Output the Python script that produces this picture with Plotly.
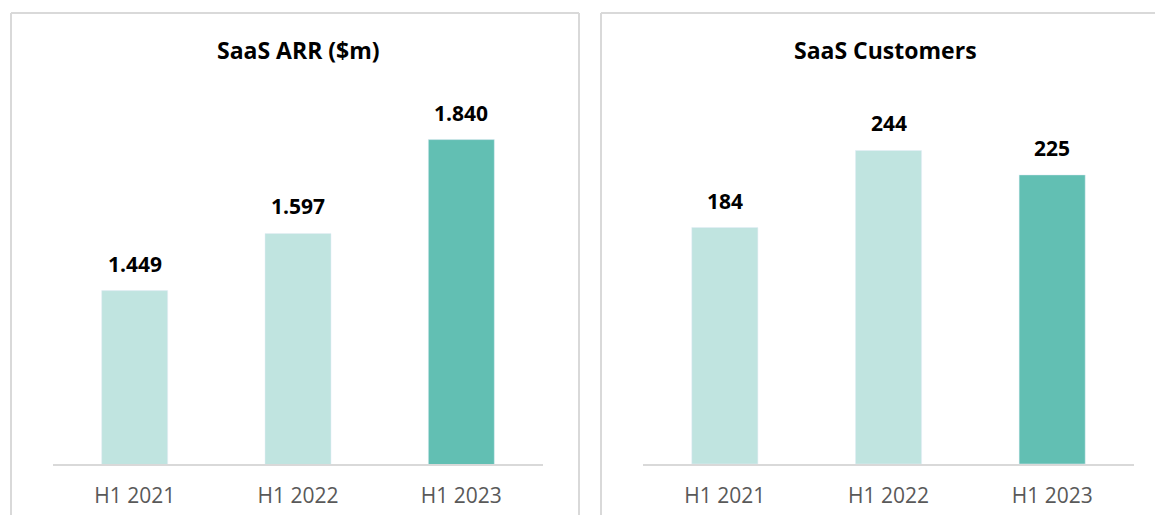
import plotly.graph_objects as go

categories = ["H1 2021", "H1 2022", "H1 2023"]
arr_values = [1.449, 1.597, 1.840]
customer_values = [184, 244, 225]
arr_labels = ["1.449", "1.597", "1.840"]
customer_labels = ["184", "244", "225"]
titles = ["SaaS ARR ($m)", "SaaS Customers"]

LIGHT = "#c0e4e0"
DARK = "#62bfb3"
colors = [LIGHT, LIGHT, DARK]
W, H = 1155, 515
FONT = "Open Sans"

def px(x):
    return x / W

def py(y):
    return (H - y) / H

fig = go.Figure()
fig.add_trace(go.Bar(x=categories, y=arr_values, marker_color=colors, xaxis="x", yaxis="y",
                     hoverinfo="skip", showlegend=False))
fig.add_trace(go.Bar(x=categories, y=customer_values, marker_color=colors, xaxis="x2", yaxis="y2",
                     hoverinfo="skip", showlegend=False))

lab_font = dict(family=FONT, size=21, color="#000000")
title_font = dict(family=FONT, size=23, color="#000000")
annotations = []
for c, v, t in zip(categories, arr_values, arr_labels):
    annotations.append(dict(x=c, y=v, xref="x", yref="y", text="<b>%s</b>" % t, showarrow=False,
                            yanchor="bottom", yshift=11, font=lab_font))
for c, v, t in zip(categories, customer_values, customer_labels):
    annotations.append(dict(x=c, y=v, xref="x2", yref="y2", text="<b>%s</b>" % t, showarrow=False,
                            yanchor="bottom", yshift=11, font=lab_font))
annotations.append(dict(x=px(298), y=py(50), xref="paper", yref="paper", text="<b>%s</b>" % titles[0],
                        showarrow=False, xanchor="center", yanchor="middle", font=title_font))
annotations.append(dict(x=px(885), y=py(50), xref="paper", yref="paper", text="<b>%s</b>" % titles[1],
                        showarrow=False, xanchor="center", yanchor="middle", font=title_font))

border = dict(color="#d9d9d9", width=2)
shapes = [
    dict(type="line", xref="paper", yref="paper", x0=px(11), x1=px(11), y0=py(13), y1=py(520), line=border),
    dict(type="line", xref="paper", yref="paper", x0=px(11), x1=px(579), y0=py(13), y1=py(13), line=border),
    dict(type="line", xref="paper", yref="paper", x0=px(579), x1=px(579), y0=py(13), y1=py(520), line=border),
    dict(type="line", xref="paper", yref="paper", x0=px(601), x1=px(601), y0=py(13), y1=py(520), line=border),
    dict(type="line", xref="paper", yref="paper", x0=px(601), x1=px(1160), y0=py(13), y1=py(13), line=border),
]

axis_common = dict(showline=True, linecolor="#d9d9d9", linewidth=2, showgrid=False, zeroline=False,
                   ticks="", ticklabelstandoff=12,
                   tickfont=dict(family=FONT, size=21, color="#595959"), fixedrange=True)
fig.update_layout(
    width=W, height=H,
    margin=dict(l=0, r=0, t=0, b=0),
    paper_bgcolor="white", plot_bgcolor="white",
    bargap=0.596,
    xaxis=dict(domain=[px(53), px(543)], anchor="y", **axis_common),
    xaxis2=dict(domain=[px(643), px(1134)], anchor="y2", **axis_common),
    yaxis=dict(domain=[py(464), py(100)], range=[1.0, 1.0 + 364 / 386.2], visible=False, fixedrange=True),
    yaxis2=dict(domain=[py(464), py(100)], range=[0, 364 / 1.285], visible=False, fixedrange=True),
    annotations=annotations,
    shapes=shapes,
)
fig.write_html("out.html", config={"displayModeBar": False},
               post_script="document.body.style.margin='0';document.body.style.overflow='hidden';")
